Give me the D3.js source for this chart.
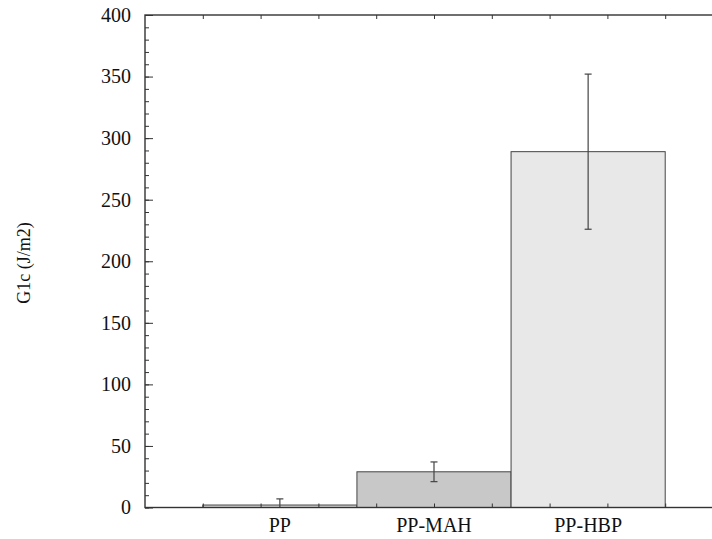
<!DOCTYPE html>
<html>
<head>
<meta charset="utf-8">
<script src="https://cdn.jsdelivr.net/npm/d3@7"></script>
<style>
  body { margin: 0; background: #fff; }
  text { font-family: "Liberation Serif", "DejaVu Serif", serif; fill: #111; }
</style>
</head>
<body>
<svg id="chart" width="712" height="539"></svg>
<script>
// data
const categories = ['PP', 'PP-MAH', 'PP-HBP'];
const values = [2, 29, 289];
const errors = [5, 8, 63];
const fills = ['#d8d8d8', '#c8c8c8', '#e8e8e8'];
const yTicks = [0, 50, 100, 150, 200, 250, 300, 350, 400];

const svg = d3.select('#chart');
const plotLeft = 145, plotRight = 723, plotTop = 15, plotBottom = 507.5;

const x = d3.scaleLinear().domain([0, 10]).range([plotLeft, plotRight]);
const y = d3.scaleLinear().domain([0, 400]).range([plotBottom, plotTop]);
const band = d3.scaleBand().domain(categories).range([x(1), x(9)]).padding(0);

// bars
svg.append('g')
  .selectAll('rect')
  .data(categories)
  .join('rect')
  .attr('x', d => band(d))
  .attr('y', (d, i) => y(values[i]))
  .attr('width', band.bandwidth())
  .attr('height', (d, i) => y(0) - y(values[i]))
  .attr('fill', (d, i) => fills[i])
  .attr('stroke', '#444')
  .attr('stroke-width', 1);

// error bars
const err = svg.append('g').attr('stroke', '#444').attr('stroke-width', 1.2);
categories.forEach((c, i) => {
  const cx = band(c) + band.bandwidth() / 2;
  err.append('line').attr('x1', cx).attr('x2', cx)
    .attr('y1', y(values[i] + errors[i])).attr('y2', y(Math.max(0, values[i] - errors[i])));
  err.append('line').attr('x1', cx - 3.5).attr('x2', cx + 3.5)
    .attr('y1', y(values[i] + errors[i])).attr('y2', y(values[i] + errors[i]));
  if (values[i] - errors[i] > 0) {
    err.append('line').attr('x1', cx - 3.5).attr('x2', cx + 3.5)
      .attr('y1', y(values[i] - errors[i])).attr('y2', y(values[i] - errors[i]));
  }
});

// frame
svg.append('rect')
  .attr('x', plotLeft).attr('y', plotTop)
  .attr('width', plotRight - plotLeft).attr('height', plotBottom - plotTop)
  .attr('fill', 'none').attr('stroke', '#333').attr('stroke-width', 1.4);

// y axis: major + minor ticks inward
svg.append('g').attr('transform', `translate(${plotLeft},0)`)
  .call(d3.axisRight(y).tickValues(d3.range(0, 401, 10)).tickSize(4).tickFormat(''))
  .call(g => g.select('.domain').remove())
  .selectAll('line').attr('stroke', '#333');
svg.append('g').attr('transform', `translate(${plotLeft},0)`)
  .call(d3.axisRight(y).tickValues(yTicks).tickSize(8).tickFormat(''))
  .call(g => g.select('.domain').remove())
  .selectAll('line').attr('stroke', '#333');
svg.append('g').attr('transform', `translate(${plotLeft},0)`)
  .call(d3.axisLeft(y).tickValues(yTicks).tickSize(0).tickPadding(14))
  .call(g => g.select('.domain').remove())
  .selectAll('text')
  .style('font-size', '20px')
  .style('font-family', '"Liberation Serif", serif')
  .attr('fill', '#111');

// x ticks top and bottom, inward
svg.append('g').attr('transform', `translate(0,${plotBottom})`)
  .call(d3.axisTop(x).tickValues(d3.range(1, 10)).tickSize(4).tickFormat(''))
  .call(g => g.select('.domain').remove())
  .selectAll('line').attr('stroke', '#333');
svg.append('g').attr('transform', `translate(0,${plotTop})`)
  .call(d3.axisBottom(x).tickValues(d3.range(1, 10)).tickSize(4).tickFormat(''))
  .call(g => g.select('.domain').remove())
  .selectAll('line').attr('stroke', '#333');

// category labels
svg.append('g')
  .selectAll('text')
  .data(categories)
  .join('text')
  .attr('x', d => band(d) + band.bandwidth() / 2)
  .attr('y', 532)
  .attr('text-anchor', 'middle')
  .style('font-size', '20px')
  .text(d => d);

// y title
svg.append('text')
  .attr('transform', 'translate(30, 263) rotate(-90)')
  .attr('text-anchor', 'middle')
  .style('font-size', '18px')
  .text('G1c (J/m2)');
</script>
</body>
</html>
